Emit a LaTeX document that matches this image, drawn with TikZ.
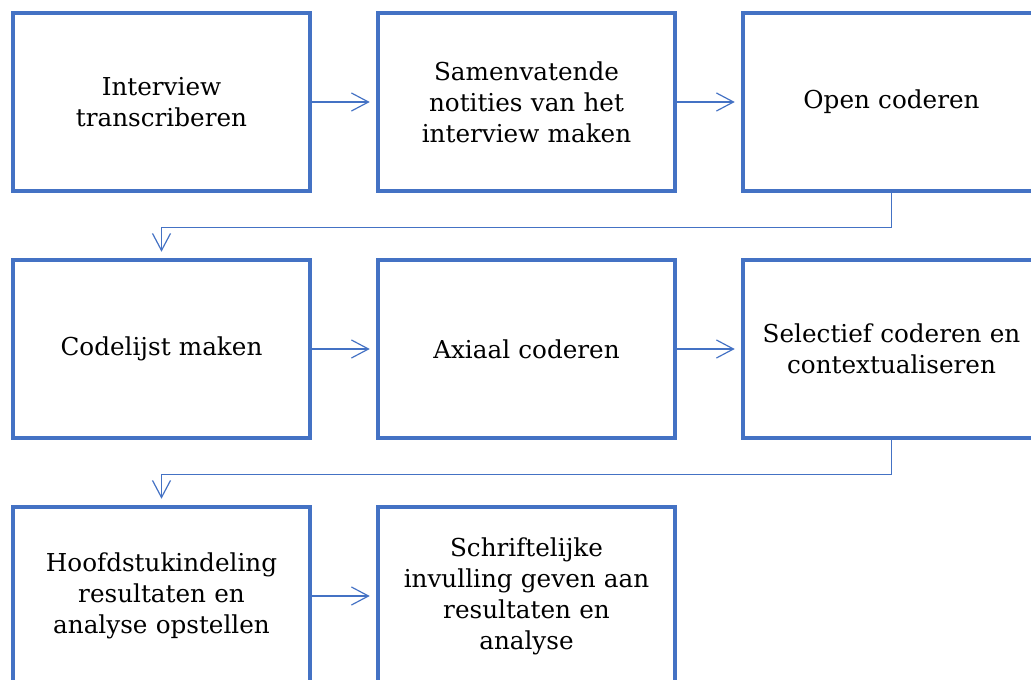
\documentclass[tikz,border=0pt]{standalone}
\usepackage{fontspec}
\setmainfont{DejaVu Serif}
\usetikzlibrary{arrows.meta}
\definecolor{wordblue}{HTML}{4472C4}
\begin{document}
\begin{tikzpicture}[x=0.75pt,y=-0.75pt,
  stepbox/.style={draw=wordblue, line width=2.4pt, fill=white,
    minimum width=222.75pt, minimum height=133.5pt, inner sep=0pt,
    align=center, text width=215pt,
    font=\fontsize{18.5}{23.2}\selectfont},
  flow/.style={draw=wordblue, line width=0.9pt,
    -{Straight Barb[length=12.75pt,width=13.5pt,line width=0.9pt]}, shorten >=5pt}]
\useasboundingbox (0,0) rectangle (1031,680);
\clip (0,0) rectangle (1031,680);
\node[stepbox] (b1) at (161.5,102) {Interview\\transcriberen};
\node[stepbox] (b2) at (526.5,102) {Samenvatende\\notities van het\\interview maken};
\node[stepbox] (b3) at (891.5,102) {Open coderen};
\node[stepbox] (b4) at (161.5,349) {Codelijst maken};
\node[stepbox] (b5) at (526.5,349) {Axiaal coderen};
\node[stepbox] (b6) at (891.5,349) {Selectief coderen en\\contextualiseren};
\node[stepbox] (b7) at (161.5,596) {Hoofdstukindeling\\resultaten en\\analyse opstellen};
\node[stepbox] (b8) at (526.5,596) {Schriftelijke\\invulling geven aan\\resultaten en\\analyse};
\draw[flow] (b1.east) -- (b2.west);
\draw[flow] (b2.east) -- (b3.west);
\draw[flow] (b4.east) -- (b5.west);
\draw[flow] (b5.east) -- (b6.west);
\draw[flow] (b7.east) -- (b8.west);
\draw[flow] (b3.south) -- ++(0,35) -| (b4.north);
\draw[flow] (b6.south) -- ++(0,35) -| (b7.north);
\end{tikzpicture}
\end{document}
